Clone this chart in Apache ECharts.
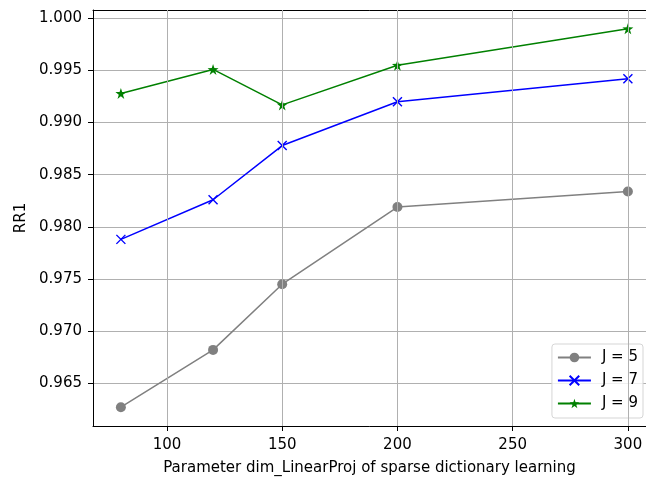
<!DOCTYPE html>
<html>
<head>
<meta charset="utf-8">
<script src="https://cdn.jsdelivr.net/npm/echarts@6/dist/echarts.min.js"></script>
<style>
  html, body { margin: 0; padding: 0; background: #fff; }
  #chart { width: 646px; height: 477px; }
</style>
</head>
<body>
<div id="chart"></div>
<script>
  // 数据
  var dims = [80, 120, 150, 200, 300];
  var j5 = [0.9627, 0.9682, 0.9745, 0.9819, 0.9834];
  var j7 = [0.9788, 0.9826, 0.9878, 0.9920, 0.9942];
  var j9 = [0.9928, 0.9951, 0.9917, 0.9955, 0.9990];
  var xTicks = [100, 150, 200, 250, 300];
  var yTicks = [0.965, 0.970, 0.975, 0.980, 0.985, 0.990, 0.995, 1.000];

  function pairs(ys) {
    return dims.map(function (x, i) { return [x, ys[i]]; });
  }

  var font = 'DejaVu Sans';
  var fs = 15;
  var xMin = 67.9, xMax = 310.9;
  var crossPath = 'path://M0,0L10,10M10,0L0,10';
  var starPath = 'path://M50,0L61.8,35.5L100,36.3L69.1,58.8L80.9,95.1L50,73L19.1,95.1L30.9,58.8L0,36.3L38.2,35.5Z';

  // 原图右侧边框被裁掉，绘图区延伸到画布外
  var option = {
    animation: false,
    textStyle: { fontFamily: font },
    grid: {
      left: 93, right: -7, top: 10, bottom: 51,
      outerBoundsMode: 'none', containLabel: false
    },
    xAxis: [{
      type: 'value',
      min: xMin, max: xMax,
      name: 'Parameter dim_LinearProj of sparse dictionary learning',
      nameLocation: 'middle',
      nameGap: 35,
      nameTextStyle: { color: '#000', fontSize: fs, fontFamily: font, padding: [0, 7, 0, 0] },
      axisLine: { show: true, lineStyle: { color: '#000', width: 1 } },
      axisTick: { show: true, length: 5, lineStyle: { color: '#000' }, customValues: xTicks },
      axisLabel: { color: '#000', fontSize: fs, margin: 12, fontFamily: font, customValues: xTicks },
      splitLine: { show: false }
    }, {
      // 顶部边框
      type: 'value', position: 'top',
      min: xMin, max: xMax,
      axisLine: { show: true, onZero: false, lineStyle: { color: '#000', width: 1 } },
      axisTick: { show: false }, axisLabel: { show: false }, splitLine: { show: false }
    }],
    yAxis: {
      type: 'value',
      min: 0.9609, max: 1.0008,
      name: 'RR1',
      nameLocation: 'middle',
      nameGap: 61,
      nameTextStyle: { color: '#000', fontSize: fs, fontFamily: font },
      axisLine: { show: true, lineStyle: { color: '#000', width: 1 } },
      axisTick: { show: true, length: 5, lineStyle: { color: '#000' }, customValues: yTicks },
      axisLabel: {
        color: '#000', fontSize: fs, margin: 11, fontFamily: font, customValues: yTicks,
        formatter: function (v) { return v.toFixed(3); }
      },
      splitLine: { show: true, lineStyle: { color: '#b0b0b0', width: 1 } }
    },
    legend: {
      orient: 'vertical',
      right: 3, bottom: 59,
      itemWidth: 33, itemHeight: 12, itemGap: 8,
      padding: [6, 5, 7, 5],
      backgroundColor: 'rgba(255,255,255,0.8)',
      borderColor: '#d5d5d5', borderWidth: 1, borderRadius: 3,
      textStyle: { color: '#000', fontSize: fs, fontFamily: font, padding: [0, 0, 0, 6] },
      data: ['J = 5', 'J = 7', 'J = 9']
    },
    series: [
      {
        // 竖向网格线
        name: 'grid', type: 'line', data: [], z: 0, silent: true,
        markLine: {
          silent: true, symbol: 'none', label: { show: false },
          lineStyle: { color: '#b0b0b0', width: 1, type: 'solid' },
          data: xTicks.map(function (v) { return { xAxis: v }; })
        }
      },
      {
        name: 'J = 5', type: 'line', data: pairs(j5),
        symbol: 'circle', symbolSize: 10,
        itemStyle: { color: '#808080' },
        lineStyle: { color: '#808080', width: 1.5 }
      },
      {
        name: 'J = 7', type: 'line', data: pairs(j7),
        symbol: crossPath, symbolSize: 9,
        itemStyle: { color: '#0000ff', borderColor: '#0000ff', borderWidth: 1.4 },
        lineStyle: { color: '#0000ff', width: 1.5 }
      },
      {
        name: 'J = 9', type: 'line', data: pairs(j9),
        symbol: starPath, symbolSize: 11,
        itemStyle: { color: '#008000' },
        lineStyle: { color: '#008000', width: 1.5 }
      }
    ]
  };

  var chart = echarts.init(document.getElementById('chart'));
  chart.setOption(option);
</script>
</body>
</html>
